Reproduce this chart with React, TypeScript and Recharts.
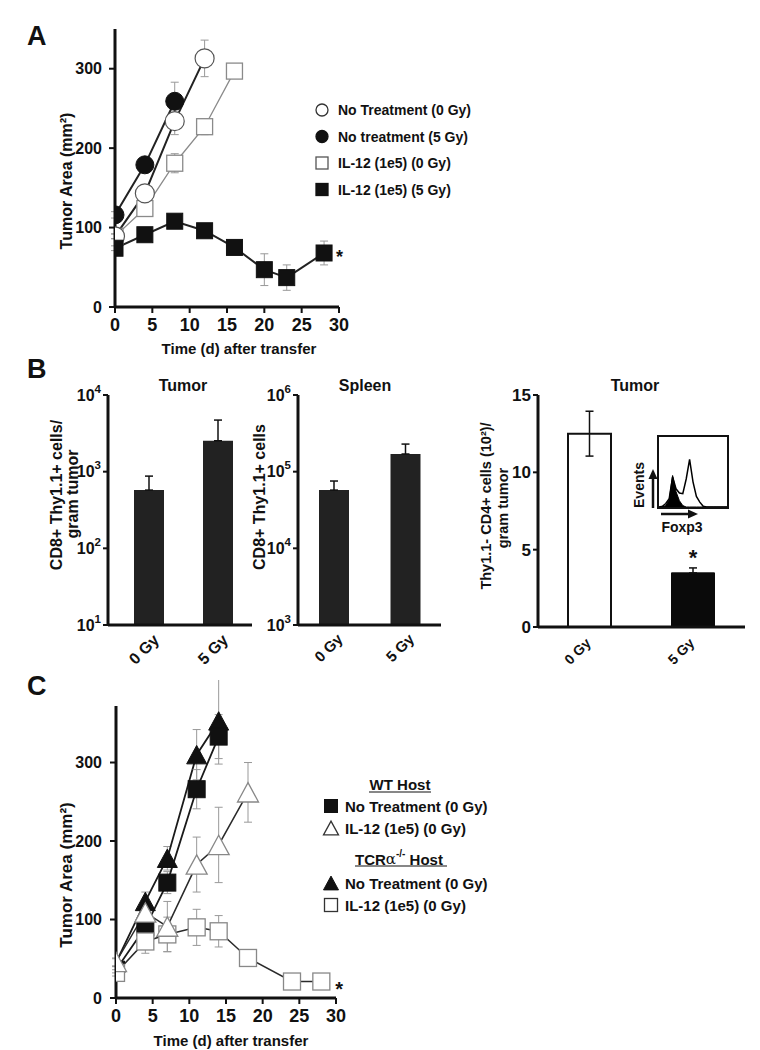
import React from 'react';
import { LineChart, Line, XAxis, YAxis, ErrorBar, BarChart, Bar, Cell, AreaChart, Area } from 'recharts';

const FONT = "'Liberation Sans', Arial, Helvetica, sans-serif";
const INK = '#111';

// ---------- Panel A data ----------
const aXTicks = [0, 5, 10, 15, 20, 25, 30];
const aYTicks = [0, 100, 200, 300];
const aDaysNt0 = [0, 4, 8, 12];
const aValsNt0 = [89, 143, 234, 313];
const aErrNt0 = [3, 5, 17, 23];
const aDaysNt5 = [0, 4, 8];
const aValsNt5 = [116, 179, 259];
const aErrNt5 = [4, 6, 24];
const aDaysIl0 = [0, 4, 8, 12, 16];
const aValsIl0 = [89, 124, 181, 227, 297];
const aErrIl0 = [3, 5, 12, 10, 4];
const aDaysIl5 = [0, 4, 8, 12, 16, 20, 23, 28];
const aValsIl5 = [74, 91, 108, 96, 75, 47, 37, 68];
const aErrIl5 = [3, 4, 4, 6, 4, 20, 16, 15];
const aLegend = ['No Treatment (0 Gy)', 'No treatment (5 Gy)', 'IL-12 (1e5) (0 Gy)', 'IL-12 (1e5) (5 Gy)'];

// ---------- Panel B data ----------
const bCats = ['0 Gy', '5 Gy'];
const bTumorCd8 = [575, 2530];
const bTumorCd8ErrUp = [300, 2180];
const bSpleenCd8 = [57500, 170000];
const bSpleenCd8ErrUp = [18000, 59000];
const bTumorCd4 = [12.5, 3.5];
const bTumorCd4ErrLow = [1.45, 0];
const bTumorCd4ErrUp = [1.45, 0.32];
const bLogTicksTumor = [10, 100, 1000, 10000];
const bLogTicksSpleen = [1000, 10000, 100000, 1000000];
const bLinTicks = [0, 5, 10, 15];
const insetBins = [0, 1, 2, 3, 4, 5, 6, 7, 8, 9, 10, 11, 12, 13, 14, 15, 16, 17, 18, 19, 20];
const insetFilled = [0, 0, 0.02, 0.1, 0.45, 0.22, 0.09, 0.02, 0, 0, 0, 0, 0, 0, 0, 0, 0, 0, 0, 0, 0];
const insetOpen = [0, 0.01, 0.05, 0.12, 0.43, 0.26, 0.2, 0.19, 0.4, 0.68, 0.36, 0.15, 0.07, 0.01, 0, 0, 0, 0, 0, 0, 0];

// ---------- Panel C data ----------
const cXTicks = [0, 5, 10, 15, 20, 25, 30];
const cYTicks = [0, 100, 200, 300];
const cDaysWtNt = [0, 4, 7, 11, 14];
const cValsWtNt = [36, 90, 147, 266, 333];
const cErrWtNt = [4, 8, 14, 25, 28];
const cDaysWtIl = [0, 4, 7, 11, 14, 18];
const cValsWtIl = [46, 109, 91, 170, 195, 262];
const cErrWtIl = [5, 12, 32, 35, 48, 38];
const cDaysTcrNt = [0, 4, 7, 11, 14];
const cValsTcrNt = [45, 123, 178, 310, 353];
const cErrTcrNt = [5, 12, 15, 32, 55];
const cDaysTcrIl = [0, 4, 7, 11, 14, 18, 24, 28];
const cValsTcrIl = [32, 72, 81, 90, 85, 51, 21, 21];
const cErrTcrIl = [4, 15, 22, 23, 20, 4, 3, 3];
const cLegendWt = ['No Treatment (0 Gy)', 'IL-12 (1e5) (0 Gy)'];
const cLegendTcr = ['No Treatment (0 Gy)', 'IL-12 (1e5) (0 Gy)'];

// ---------- helpers ----------
const series = (days: number[], vals: number[], errs: number[]) =>
  days.map((x, i) => ({ x, y: vals[i], e: errs[i] }));

const AX = { stroke: INK, strokeWidth: 3 };
const TL = { stroke: INK, strokeWidth: 2 };
const tickStyle = (fs: number) => ({ fontSize: fs, fontWeight: 700, fill: INK, fontFamily: FONT });

type Shape = 'circle' | 'square' | 'triangle';
function Marker({ shape, cx, cy, size, fill, stroke, sw }: any) {
  if (cx == null || cy == null) return null;
  const h = size / 2;
  if (shape === 'circle') return <circle cx={cx} cy={cy} r={h} fill={fill} stroke={stroke} strokeWidth={sw} />;
  if (shape === 'square') return <rect x={cx - h} y={cy - h} width={size} height={size} fill={fill} stroke={stroke} strokeWidth={sw} />;
  const th = size * 0.92;
  return <polygon points={`${cx},${cy - th / 2} ${cx + h},${cy + th / 2} ${cx - h},${cy + th / 2}`} fill={fill} stroke={stroke} strokeWidth={sw} strokeLinejoin="miter" />;
}
const dotFn = (shape: Shape, size: number, fill: string, stroke: string, sw: number) => (p: any) => (
  <Marker key={`dot-${p.index}`} shape={shape} cx={p.cx} cy={p.cy} size={size} fill={fill} stroke={stroke} sw={sw} />
);
const starAt = (idx: number, dx: number, dy: number, fs: number) => (p: any) =>
  p.index === idx ? (
    <text key="star" x={p.x + dx} y={p.y + dy} fontSize={fs} fontWeight={700} fontFamily={FONT} fill={INK}>*</text>
  ) : (
    <g key={`nostar-${p.index}`} />
  );

const LogTick = (fs: number) => (p: any) => {
  const exp = Math.round(Math.log10(p.payload.value));
  return (
    <text x={p.x} y={p.y} textAnchor="end" fontFamily={FONT} fontWeight={700} fontSize={fs} fill={INK}>
      <tspan dy="0.36em">10</tspan>
      <tspan dy={-fs * 0.5} fontSize={fs * 0.72}>{exp}</tspan>
    </text>
  );
};
const RotTick = (dx: number, dy: number, fs: number) => (p: any) => {
  const ax = p.x + dx;
  const ay = p.y + dy;
  return (
    <text x={ax} y={ay} transform={`rotate(-45 ${ax} ${ay})`} textAnchor="end" fontFamily={FONT} fontWeight={700} fontSize={fs} fill={INK}>
      {p.payload.value}
    </text>
  );
};

// ---------- Panel A ----------
function PanelA() {
  return (
    <LineChart width={360} height={360} margin={{ top: 29, right: 21, bottom: 0, left: 0 }}>
      <XAxis type="number" dataKey="x" domain={[0, 30]} ticks={aXTicks} interval={0} height={53} axisLine={AX} tickLine={TL} tickSize={6} tickMargin={5} tick={tickStyle(18)} allowDataOverflow />
      <YAxis type="number" domain={[0, 350]} ticks={aYTicks} interval={0} width={115} axisLine={AX} tickLine={TL} tickSize={6} tickMargin={7} tick={tickStyle(16)} allowDataOverflow />
      <Line data={series(aDaysIl0, aValsIl0, aErrIl0)} dataKey="y" stroke="#8a8a8a" strokeWidth={1.3} dot={dotFn('square', 16, '#fff', '#8a8a8a', 1.3)} activeDot={false} isAnimationActive={false}>
        <ErrorBar dataKey="e" width={4} stroke="#999" strokeWidth={1} />
      </Line>
      <Line data={series(aDaysNt0, aValsNt0, aErrNt0)} dataKey="y" stroke="#222" strokeWidth={2} dot={dotFn('circle', 19, '#fff', '#555', 1.2)} activeDot={false} isAnimationActive={false}>
        <ErrorBar dataKey="e" width={4} stroke="#999" strokeWidth={1} />
      </Line>
      <Line data={series(aDaysNt5, aValsNt5, aErrNt5)} dataKey="y" stroke="#222" strokeWidth={2} dot={dotFn('circle', 18, '#111', '#111', 1)} activeDot={false} isAnimationActive={false}>
        <ErrorBar dataKey="e" width={4} stroke="#999" strokeWidth={1} />
      </Line>
      <Line data={series(aDaysIl5, aValsIl5, aErrIl5)} dataKey="y" stroke="#222" strokeWidth={2} dot={dotFn('square', 16, '#111', '#111', 1)} activeDot={false} isAnimationActive={false} label={starAt(aDaysIl5.length - 1, 12, 10, 18)}>
        <ErrorBar dataKey="e" width={4} stroke="#999" strokeWidth={1} />
      </Line>
    </LineChart>
  );
}

// ---------- Panel B ----------
const bTumorData = bCats.map((c, i) => ({ cat: c, v: bTumorCd8[i], e: [0, bTumorCd8ErrUp[i]] }));
const bSpleenData = bCats.map((c, i) => ({ cat: c, v: bSpleenCd8[i], e: [0, bSpleenCd8ErrUp[i]] }));
const bCd4Data = bCats.map((c, i) => ({ cat: c, v: bTumorCd4[i], e: [bTumorCd4ErrLow[i], bTumorCd4ErrUp[i]] }));
const insetData = insetBins.map((b, i) => ({ b, f: insetFilled[i], o: insetOpen[i] }));

function PanelB1() {
  return (
    <BarChart width={260} height={340} data={bTumorData} margin={{ top: 55, right: 8, bottom: 0, left: 0 }}>
      <XAxis dataKey="cat" height={55} padding={{ left: 6, right: 0 }} axisLine={AX} tickLine={false} tickSize={5} tickMargin={0} interval={0} tick={RotTick(11.5, 11, 16)} />
      <YAxis type="number" scale="log" domain={[10, 10000]} ticks={bLogTicksTumor} interval={0} width={108} axisLine={AX} tickLine={TL} tickSize={5} tickMargin={2} tick={LogTick(16)} allowDataOverflow />
      <Bar dataKey="v" fill="#222" barSize={30} isAnimationActive={false}>
        <ErrorBar dataKey="e" width={4} stroke={INK} strokeWidth={1.5} />
      </Bar>
    </BarChart>
  );
}

function PanelB2() {
  return (
    <BarChart width={260} height={340} data={bSpleenData} margin={{ top: 55, right: 9, bottom: 0, left: 0 }}>
      <XAxis dataKey="cat" height={55} axisLine={AX} tickLine={false} tickSize={5} tickMargin={0} interval={0} tick={RotTick(10, 10, 15)} />
      <YAxis type="number" scale="log" domain={[1000, 1000000]} ticks={bLogTicksSpleen} interval={0} width={108} axisLine={AX} tickLine={TL} tickSize={5} tickMargin={2} tick={LogTick(16)} allowDataOverflow />
      <Bar dataKey="v" fill="#222" barSize={30} isAnimationActive={false}>
        <ErrorBar dataKey="e" width={4} stroke={INK} strokeWidth={1.5} />
      </Bar>
    </BarChart>
  );
}

function PanelB3() {
  return (
    <BarChart width={330} height={340} data={bCd4Data} margin={{ top: 55, right: 15, bottom: 0, left: 0 }}>
      <XAxis dataKey="cat" height={53} axisLine={AX} tickLine={false} tickSize={5} tickMargin={0} interval={0} tick={RotTick(2, 12, 14)} />
      <YAxis type="number" domain={[0, 15]} ticks={bLinTicks} interval={0} width={108} axisLine={AX} tickLine={TL} tickSize={5} tickMargin={2} tick={tickStyle(17)} allowDataOverflow />
      <Bar dataKey="v" barSize={43} isAnimationActive={false}
        label={(p: any) => p.index === 1 ? (
          <text key="bstar" x={p.x + p.width / 2} y={p.y - 8} textAnchor="middle" fontSize={22} fontWeight={700} fontFamily={FONT} fill={INK}>*</text>
        ) : <g key={`bn-${p.index}`} />}>
        <Cell fill="#fff" stroke={INK} strokeWidth={2} />
        <Cell fill="#0a0a0a" stroke="#0a0a0a" strokeWidth={1} />
        <ErrorBar dataKey="e" width={4} stroke={INK} strokeWidth={1.5} />
      </Bar>
    </BarChart>
  );
}

function Inset() {
  return (
    <AreaChart width={68} height={70} data={insetData} margin={{ top: 0, right: 0, bottom: 0, left: 0 }}>
      <XAxis type="number" dataKey="b" domain={[0, 20]} hide />
      <YAxis type="number" domain={[0, 1]} hide />
      <Area type="linear" dataKey="f" stroke="#000" strokeWidth={1} fill="#000" fillOpacity={1} isAnimationActive={false} dot={false} activeDot={false} />
      <Area type="linear" dataKey="o" stroke="#000" strokeWidth={1.5} fill="none" isAnimationActive={false} dot={false} activeDot={false} />
    </AreaChart>
  );
}

// ---------- Panel C ----------
function PanelC() {
  return (
    <LineChart width={360} height={370} margin={{ top: 26, right: 24, bottom: 0, left: 0 }}>
      <XAxis type="number" dataKey="x" domain={[0, 30]} ticks={cXTicks} interval={0} height={52} axisLine={AX} tickLine={TL} tickSize={6} tickMargin={5} tick={tickStyle(18)} allowDataOverflow />
      <YAxis type="number" domain={[0, 372]} ticks={cYTicks} interval={0} width={116} axisLine={AX} tickLine={TL} tickSize={6} tickMargin={8} tick={tickStyle(16)} allowDataOverflow />
      <Line data={series(cDaysTcrNt, cValsTcrNt, cErrTcrNt)} dataKey="y" stroke="#1a1a1a" strokeWidth={1.8} dot={dotFn('triangle', 20, '#111', '#111', 1)} activeDot={false} isAnimationActive={false}>
        <ErrorBar dataKey="e" width={4} stroke="#999" strokeWidth={1} />
      </Line>
      <Line data={series(cDaysWtNt, cValsWtNt, cErrWtNt)} dataKey="y" stroke="#1a1a1a" strokeWidth={1.8} dot={dotFn('square', 17, '#111', '#111', 1)} activeDot={false} isAnimationActive={false}>
        <ErrorBar dataKey="e" width={4} stroke="#999" strokeWidth={1} />
      </Line>
      <Line data={series(cDaysTcrIl, cValsTcrIl, cErrTcrIl)} dataKey="y" stroke="#2a2a2a" strokeWidth={1.5} dot={dotFn('square', 17, '#fff', '#888', 1.3)} activeDot={false} isAnimationActive={false} label={starAt(cDaysTcrIl.length - 1, 14, 14, 20)}>
        <ErrorBar dataKey="e" width={4} stroke="#999" strokeWidth={1} />
      </Line>
      <Line data={series(cDaysWtIl, cValsWtIl, cErrWtIl)} dataKey="y" stroke="#2a2a2a" strokeWidth={1.5} dot={dotFn('triangle', 21, '#fff', '#888', 1.3)} activeDot={false} isAnimationActive={false}>
        <ErrorBar dataKey="e" width={4} stroke="#999" strokeWidth={1} />
      </Line>
    </LineChart>
  );
}

// ---------- overlay text ----------
const txt = (fs: number) => ({ fontFamily: FONT, fontWeight: 700, fontSize: fs, fill: INK });
function VText({ x, y, fs, children }: any) {
  return (
    <text x={x} y={y} transform={`rotate(-90 ${x} ${y})`} textAnchor="middle" dominantBaseline="central" style={txt(fs)}>{children}</text>
  );
}

function Overlay() {
  const aRows = [110, 136.5, 163, 189.5];
  const aMarkers: [Shape, string, string][] = [
    ['circle', '#fff', '#333'],
    ['circle', '#111', '#111'],
    ['square', '#fff', '#555'],
    ['square', '#111', '#111'],
  ];
  return (
    <svg width={760} height={1050} style={{ position: 'absolute', left: 0, top: 0, pointerEvents: 'none' }}>
      {/* panel letters */}
      <text x={27} y={45} style={txt(27)}>A</text>
      <text x={27} y={378} style={txt(27)}>B</text>
      <text x={27} y={695} style={txt(27)}>C</text>

      {/* Panel A titles */}
      <VText x={66} y={181} fs={16}>Tumor Area (mm²)</VText>
      <text x={239} y={348} textAnchor="middle" dominantBaseline="central" style={txt(15)}>Time (d) after transfer</text>
      {aLegend.map((l, i) => (
        <g key={l}>
          <Marker shape={aMarkers[i][0]} cx={322} cy={aRows[i]} size={12} fill={aMarkers[i][1]} stroke={aMarkers[i][2]} sw={1.3} />
          <text x={338} y={aRows[i]} dominantBaseline="central" style={txt(14)}>{l}</text>
        </g>
      ))}

      {/* Panel B titles */}
      <text x={183} y={385} textAnchor="middle" dominantBaseline="central" style={txt(16)}>Tumor</text>
      <text x={365} y={385} textAnchor="middle" dominantBaseline="central" style={txt(16)}>Spleen</text>
      <text x={635} y={385} textAnchor="middle" dominantBaseline="central" style={txt(16)}>Tumor</text>
      <VText x={56} y={495} fs={16}>CD8+ Thy1.1+ cells/</VText>
      <VText x={72} y={494} fs={16}>gram tumor</VText>
      <VText x={259} y={497} fs={16}>CD8+ Thy1.1+ cells</VText>
      <VText x={486} y={506} fs={14.5}>Thy1.1- CD4+ cells (10²)/</VText>
      <VText x={503} y={508} fs={14.5}>gram tumor</VText>

      {/* inset decorations */}
      <rect x={658} y={436} width={70} height={72} fill="none" stroke={INK} strokeWidth={2} />
      <line x1={653} y1={508} x2={653} y2={478} stroke={INK} strokeWidth={2.5} />
      <polygon points="653,469 648.5,479 657.5,479" fill={INK} />
      <line x1={661} y1={514} x2={689} y2={514} stroke={INK} strokeWidth={2.5} />
      <polygon points="698,514 688,509.5 688,518.5" fill={INK} />
      <VText x={639} y={485} fs={14}>Events</VText>
      <text x={682} y={527} textAnchor="middle" dominantBaseline="central" style={txt(14)}>Foxp3</text>

      {/* Panel C titles */}
      <VText x={66} y={875} fs={17}>Tumor Area (mm²)</VText>
      <text x={231} y={1040} textAnchor="middle" dominantBaseline="central" style={txt(15)}>Time (d) after transfer</text>
      <text x={400} y={784} textAnchor="middle" dominantBaseline="central" style={txt(15)}>WT Host</text>
      <line x1={369} y1={792} x2={431} y2={792} stroke={INK} strokeWidth={1.2} />
      <Marker shape="square" cx={331} cy={806} size={13} fill="#111" stroke="#111" sw={1} />
      <text x={345} y={806} dominantBaseline="central" style={txt(15)}>{cLegendWt[0]}</text>
      <Marker shape="triangle" cx={331} cy={828} size={15} fill="#fff" stroke="#333" sw={1.3} />
      <text x={345} y={828} dominantBaseline="central" style={txt(15)}>{cLegendWt[1]}</text>
      <text x={355} y={859} dominantBaseline="central" style={txt(15)}>
        TCR<tspan fontFamily="'DejaVu Serif', serif" fontWeight={400}>α</tspan>
        <tspan dy={-6} fontSize={10}>-/-</tspan>
        <tspan dy={6}> Host</tspan>
      </text>
      <line x1={355} y1={866} x2={447} y2={866} stroke={INK} strokeWidth={1.2} />
      <Marker shape="triangle" cx={331} cy={883} size={15} fill="#111" stroke="#111" sw={1} />
      <text x={345} y={883} dominantBaseline="central" style={txt(15)}>{cLegendTcr[0]}</text>
      <Marker shape="square" cx={331} cy={905} size={13} fill="#fff" stroke="#333" sw={1.3} />
      <text x={345} y={905} dominantBaseline="central" style={txt(15)}>{cLegendTcr[1]}</text>
    </svg>
  );
}

export default function App() {
  return (
    <div style={{ position: 'absolute', left: 0, top: 0, width: 760, height: 1050, background: '#fff', overflow: 'hidden', fontFamily: FONT }}>
      <div style={{ position: 'absolute', left: 0, top: 0 }}><PanelA /></div>
      <div style={{ position: 'absolute', left: 0, top: 340 }}><PanelB1 /></div>
      <div style={{ position: 'absolute', left: 190, top: 340 }}><PanelB2 /></div>
      <div style={{ position: 'absolute', left: 430, top: 340 }}><PanelB3 /></div>
      <div style={{ position: 'absolute', left: 659, top: 437 }}><Inset /></div>
      <div style={{ position: 'absolute', left: 0, top: 680 }}><PanelC /></div>
      <Overlay />
    </div>
  );
}
